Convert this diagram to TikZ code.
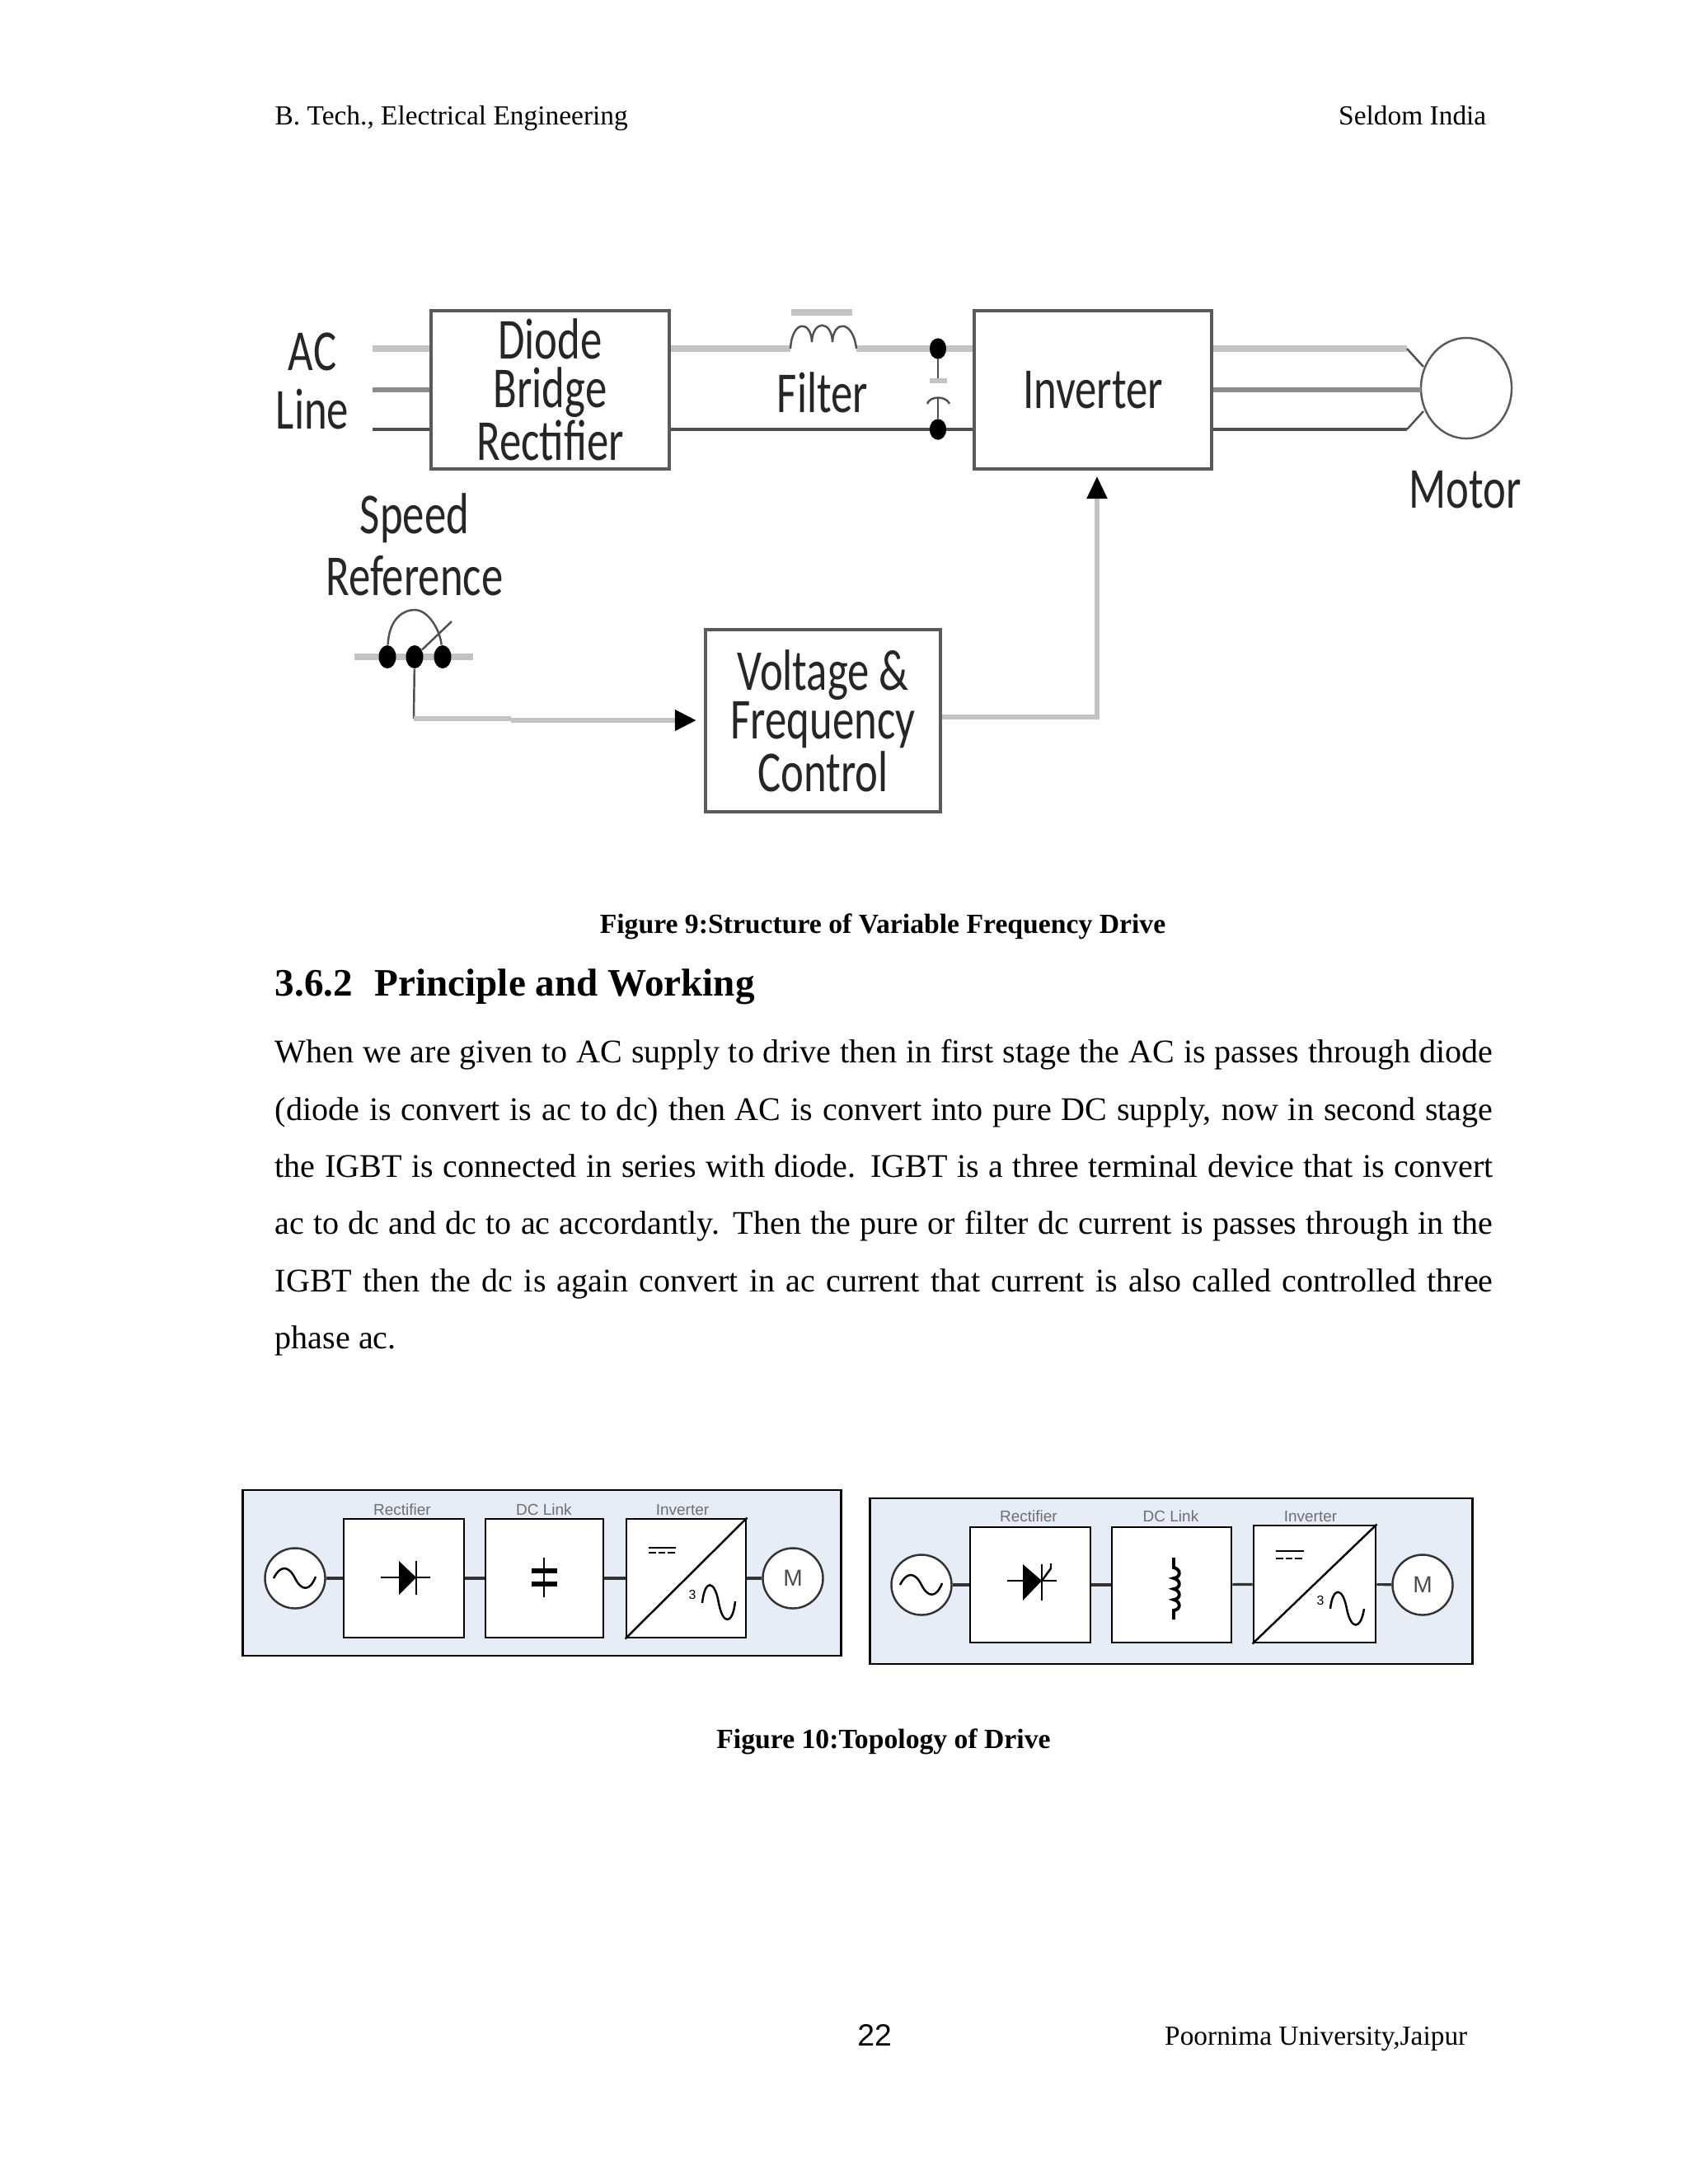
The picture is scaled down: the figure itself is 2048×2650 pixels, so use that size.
\documentclass[tikz,border=0pt]{standalone}
\usepackage{fontspec}
\usepackage{xcolor}
\usepackage{tikz}
\usetikzlibrary{shapes.geometric, arrows.meta}
\setmainfont{Liberation Serif}
\newfontfamily\figfont[FakeStretch=0.75]{Carlito}
\newfontfamily\arialfont{Liberation Sans}
\definecolor{wirelight}{RGB}{195,195,195}
\definecolor{wiremid}{RGB}{140,140,140}
\definecolor{wiredark}{RGB}{80,80,80}
\definecolor{boxgray}{RGB}{90,90,90}
\definecolor{panelblue}{RGB}{231,237,246}
\definecolor{labelgray}{RGB}{110,110,115}
\tikzset{
  blockbox/.style={draw=boxgray, line width=1pt, fill=white, inner sep=0pt, align=center, text=black!85, font=\figfont\fontsize{20}{16.8}\selectfont},
  figlabel/.style={inner sep=0pt, align=center, text=black!85, font=\figfont\fontsize{20}{17.2}\selectfont},
  juncdot/.style={ellipse, fill=black, inner sep=0pt, minimum width=0.2cm, minimum height=0.25cm},
  wireA/.style={wirelight, line width=2.3pt},
  wireB/.style={wiremid, line width=1.5pt},
  wireC/.style={wiredark, line width=1.1pt},
  thinwire/.style={wiredark, line width=0.7pt},
  panel/.style={draw=black, line width=0.8pt, fill=panelblue, inner sep=0pt},
  stagebox/.style={draw=black, line width=0.8pt, fill=white, inner sep=0pt},
  roundunit/.style={circle, draw=black!80, line width=0.7pt, fill=white, inner sep=0pt, minimum size=0.73cm, font=\arialfont\fontsize{8}{8}\selectfont, text=black!70},
  stagelabel/.style={inner sep=0pt, text=labelgray, font=\arialfont\fontsize{5.4}{6}\selectfont},
  linkwire/.style={black!80, line width=0.9pt},
  symwire/.style={black, line width=0.7pt},
  headtext/.style={inner sep=0pt, font=\fontsize{9.5}{11}\selectfont},
  captext/.style={inner sep=0pt, font=\bfseries\fontsize{9.58}{11}\selectfont},
  sectext/.style={anchor=base west, inner sep=0pt, font=\bfseries\fontsize{13.4}{15}\selectfont},
}
\begin{document}
\begin{tikzpicture}[x=0.01cm, y=-0.01cm]
  \useasboundingbox (0,0) rectangle (2048,2650);
  \node[headtext, anchor=base west] (headleft) at (333,151) {B. Tech., Electrical Engineering};
  \node[headtext, anchor=base east] (headright) at (1804,151) {Seldom India};

  \node[blockbox, minimum width=2.89cm, minimum height=1.92cm] (rectifier) at (667.5,473) {Diode\\Bridge\\Rectifier};
  \node[blockbox, minimum width=2.88cm, minimum height=1.92cm] (inverter) at (1326,473) {Inverter};
  \node[blockbox, minimum width=2.85cm, minimum height=2.21cm] (control) at (998.5,874.5) {Voltage \&\\Frequency\\Control};
  \node[ellipse, draw=boxgray, line width=0.7pt, inner sep=0pt, minimum width=1.1cm, minimum height=1.22cm] (motor) at (1779,471) {};
  \node[figlabel] (acline) at (379,462) {AC\\[3pt]Line};
  \node[figlabel] (filterlabel) at (998,476) {Filter};
  \node[figlabel] (motorlabel) at (1778,594) {Motor};
  \node[figlabel] (speedref) at (503,661) {Speed\\[4pt]Reference};

  \coordinate (lineA) at (452,423);
  \coordinate (lineB) at (452,473);
  \coordinate (lineC) at (452,521);
  \draw[wireA] (lineA) -- (lineA -| rectifier.west);
  \draw[wireB] (lineB) -- (lineB -| rectifier.west);
  \draw[wireC] (lineC) -- (lineC -| rectifier.west);

  \coordinate (chokein) at (959,423);
  \coordinate (chokeout) at (1039,423);
  \node[juncdot] (captop) at (1138,423) {};
  \node[juncdot] (capbot) at (1138,521) {};
  \draw[wireA] (chokein -| rectifier.east) -- (chokein);
  \draw[wireA] (chokeout) -- (chokeout -| inverter.west);
  \draw[wireC] (capbot -| rectifier.east) -- (capbot -| inverter.west);
  \draw[thinwire] (chokein) .. controls (961,388) and (984,388) .. (985,415) .. controls (986,388) and (1009,388) .. (1010,415) .. controls (1011,388) and (1035,388) .. (chokeout);
  \draw[wireA] (960,379) -- (1034,379);
  \draw[thinwire] (captop) -- (1138,462);
  \draw[wirelight, line width=1.8pt] (1128,462) -- (1149,462);
  \draw[thinwire] (capbot) -- (1138,482);
  \draw[thinwire] (1125,490) .. controls (1128,480) and (1148,480) .. (1152,490);
  \node[juncdot] at (captop) {};
  \node[juncdot] at (capbot) {};

  \coordinate (phaseA) at (1707,423);
  \coordinate (phaseB) at (1724,473);
  \coordinate (phaseC) at (1707,521);
  \draw[wireA] (phaseA -| inverter.east) -- (phaseA);
  \draw[wireB] (phaseB -| inverter.east) -- (phaseB);
  \draw[wireC] (phaseC -| inverter.east) -- (phaseC);
  \draw[thinwire] (phaseA) -- (1727,445);
  \draw[thinwire] (phaseC) -- (1727,499);

  \coordinate (potleft) at (430,797);
  \coordinate (potright) at (574,797);
  \coordinate (wipertip) at (548,754);
  \coordinate (refcorner) at (502,872);
  \coordinate (refmid) at (620,872);
  \coordinate (ctlcorner) at (1331,870);
  \coordinate (ctlin) at (845,874);
  \coordinate (invin) at (1331,578);
  \draw[wireA] (potleft) -- (potright);
  \node[juncdot, minimum width=0.21cm, minimum height=0.28cm] (potA) at (470,797) {};
  \node[juncdot, minimum width=0.21cm, minimum height=0.28cm] (potB) at (503,797) {};
  \node[juncdot, minimum width=0.21cm, minimum height=0.28cm] (potC) at (537,797) {};
  \draw[thinwire] (potA) .. controls (472,750) and (490,740) .. (503,740) .. controls (520,740) and (534,765) .. (potC);
  \draw[thinwire] (potB) -- (wipertip);
  \draw[thinwire] (potB) -- (refcorner);
  \draw[wirelight, line width=1.5pt] (refcorner) -- (refmid);
  \draw[wirelight, line width=1.9pt, -{Triangle[black, length=0.26cm, width=0.24cm]}] (refmid |- ctlin) -- (ctlin);
  \draw[wirelight, line width=1.5pt, -{Triangle[black, length=0.27cm, width=0.24cm]}] (control.east |- ctlcorner) -- (ctlcorner) -- (invin);

  \node[captext, anchor=base] (figA) at (1071,1132) {Figure 9:Structure of Variable Frequency Drive};
  \node[sectext] (secnum) at (333,1208) {3.6.2};
  \node[sectext] (sectitle) at (454,1208) {Principle and Working};
  \node[anchor=north west, inner sep=0pt, text width=14.77cm, align=justify, font=\fontsize{11.4}{19.72}\selectfont] (bodytext) at (333,1261) {When we are given to AC supply to drive then in first stage the AC is passes through diode\linebreak
  (diode is convert is ac to dc) then AC is convert into pure DC supply, now in second stage\linebreak
  the IGBT is connected in series with diode. IGBT is a three terminal device that is convert\linebreak
  ac to dc and dc to ac accordantly. Then the pure or filter dc current is passes through in the\linebreak
  IGBT then the dc is again convert in ac current that current is also called controlled three\linebreak
  phase ac.};

  \node[panel, minimum width=7.26cm, minimum height=2.01cm] (panelA) at (657.5,1908.5) {};
  \node[stagebox, minimum width=1.46cm, minimum height=1.44cm] (rectA) at (490,1915) {};
  \node[stagebox, minimum width=1.43cm, minimum height=1.44cm] (linkA) at (660.5,1915) {};
  \node[stagebox, minimum width=1.45cm, minimum height=1.44cm] (invA) at (832.5,1915) {};
  \node[roundunit] (srcA) at (358,1915) {};
  \node[roundunit] (motA) at (962,1915) {M};
  \node[stagelabel] (labrectA) at (488,1832) {Rectifier};
  \node[stagelabel] (lablinkA) at (660,1832) {DC Link};
  \node[stagelabel] (labinvA) at (828,1832) {Inverter};
  \draw[linkwire] (srcA) -- (rectA);
  \draw[linkwire] (rectA) -- (linkA);
  \draw[linkwire] (linkA) -- (invA);
  \draw[linkwire] (invA) -- (motA);
  \draw[symwire] (332,1915) .. controls (340,1899) and (350,1899) .. (358,1915) .. controls (366,1931) and (376,1931) .. (383,1913);
  \draw[symwire] (462,1914) -- (522,1914);
  \fill[black] (484,1894) -- (505,1914) -- (484,1935) -- cycle;
  \draw[symwire] (505,1894) -- (505,1935);
  \draw[symwire] (660,1890) -- (660,1938);
  \draw[black, line width=1.7pt] (645,1906) -- (676,1906);
  \draw[black, line width=1.7pt] (645,1922) -- (676,1922);
  \draw[symwire] (invA.south west) -- (invA.north east);
  \draw[symwire] (787,1878) -- (820,1878);
  \draw[symwire, dash pattern=on 2.5pt off 0.8pt] (787,1884) -- (820,1884);
  \node[inner sep=0pt, font=\arialfont\fontsize{4.5}{5}\selectfont] (threeA) at (840,1935) {3};
  \draw[symwire] (852,1945) .. controls (855,1916) and (867,1916) .. (872,1945) .. controls (877,1972) and (889,1972) .. (892,1943);

  \node[panel, minimum width=7.3cm, minimum height=2.01cm] (panelB) at (1421,1918.5) {};
  \node[stagebox, minimum width=1.46cm, minimum height=1.4cm] (rectB) at (1250,1923) {};
  \node[stagebox, minimum width=1.45cm, minimum height=1.4cm] (linkB) at (1421.5,1923) {};
  \node[stagebox, minimum width=1.48cm, minimum height=1.42cm] (invB) at (1595,1922) {};
  \node[roundunit] (srcB) at (1118,1923) {};
  \node[roundunit] (motB) at (1726,1923) {M};
  \node[stagelabel] (labrectB) at (1248,1840) {Rectifier};
  \node[stagelabel] (lablinkB) at (1420.5,1840) {DC Link};
  \node[stagelabel] (labinvB) at (1590,1840) {Inverter};
  \draw[linkwire] (srcB) -- (rectB);
  \draw[linkwire] (rectB) -- (linkB);
  \draw[linkwire] (linkB) -- (invB);
  \draw[linkwire] (invB) -- (motB);
  \draw[symwire] (1092,1923) .. controls (1100,1907) and (1110,1907) .. (1118,1923) .. controls (1126,1939) and (1136,1939) .. (1143,1921);
  \draw[symwire] (1222,1918) -- (1282,1918);
  \fill[black] (1241,1898) -- (1264,1918) -- (1241,1942) -- cycle;
  \draw[symwire] (1264,1898) -- (1264,1942);
  \draw[symwire] (1264,1918) -- (1275,1903) -- (1275,1897);
  \draw[black, line width=1.1pt] (1424,1890) -- (1424,1902) .. controls (1433,1904) and (1433,1914) .. (1424,1915) .. controls (1433,1917) and (1433,1927) .. (1424,1928) .. controls (1433,1930) and (1433,1940) .. (1424,1941) .. controls (1433,1943) and (1433,1953) .. (1424,1954) -- (1424,1965);
  \draw[symwire] (invB.south west) -- (invB.north east);
  \draw[symwire] (1548,1882) -- (1582,1882);
  \draw[symwire, dash pattern=on 2.5pt off 0.8pt] (1548,1891) -- (1582,1891);
  \node[inner sep=0pt, font=\arialfont\fontsize{4.5}{5}\selectfont] (threeB) at (1602,1942) {3};
  \draw[symwire] (1614,1952) .. controls (1617,1925) and (1629,1925) .. (1634,1952) .. controls (1639,1978) and (1651,1978) .. (1655,1952);

  \node[captext, anchor=base] (figB) at (1072,2121) {Figure 10:Topology of Drive};
  \node[inner sep=0pt, font=\arialfont\fontsize{10.6}{13}\selectfont] (pagenum) at (1061,2469) {22};
  \node[headtext, anchor=base east] (footright) at (1781,2481) {Poornima University,Jaipur};
\end{tikzpicture}
\end{document}
